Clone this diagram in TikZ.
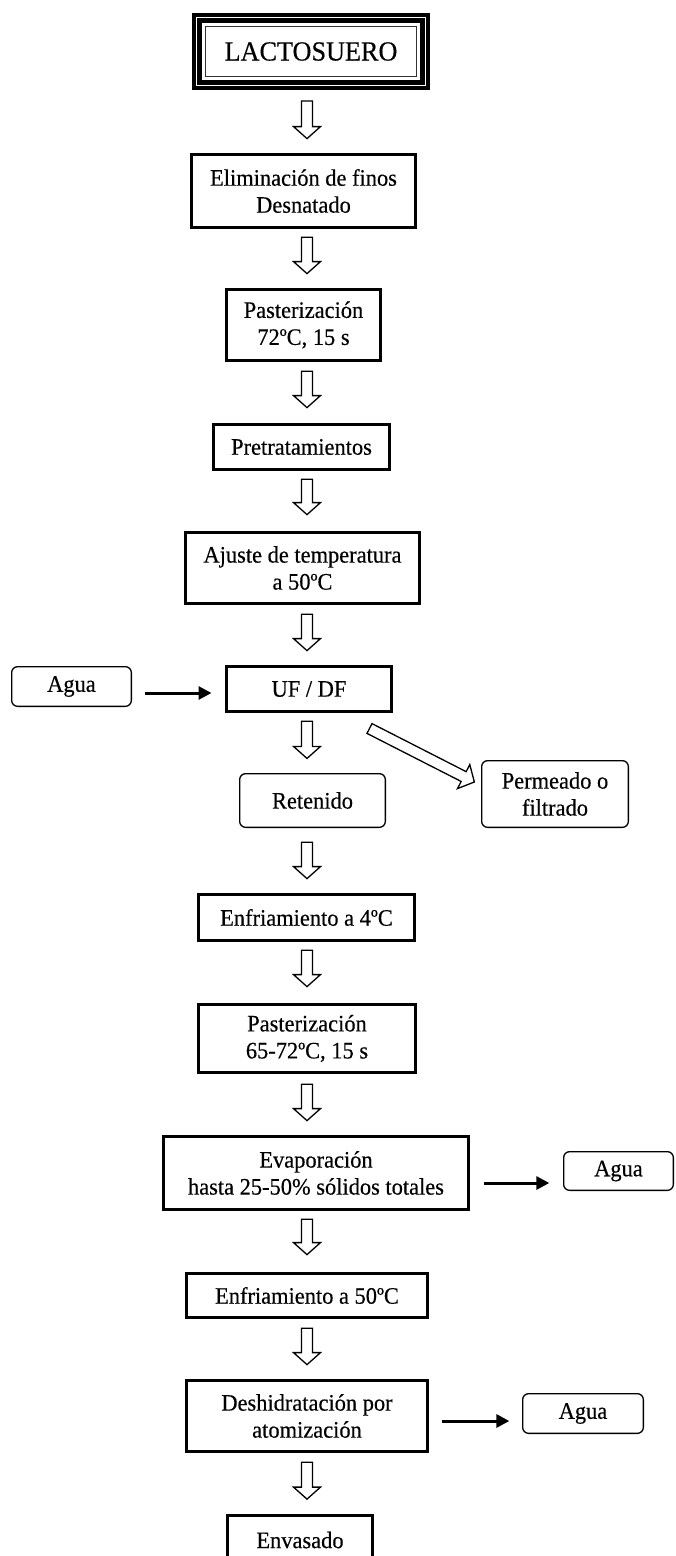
\documentclass[tikz,border=0pt]{standalone}
\usepackage{fontspec}
\setmainfont{Liberation Serif}[FakeStretch=0.95, FakeBold=0.4]
\usetikzlibrary{calc,arrows.meta}

\newcommand\flowfont{\fontsize{23.6}{27}\selectfont}
\newcommand\titlefont{\fontsize{27.6}{31}\selectfont}

\tikzset{
  stepbox/.style={draw, line width=3pt, align=center, inner sep=0pt, font=\flowfont},
  endbox/.style={draw, line width=1.3pt, rounded corners=6pt, align=center, inner sep=0pt, font=\flowfont},
  flow/.style={line width=3pt, -{Triangle[length=13pt,width=13pt]}},
  hollow/.style={draw, line width=1.3pt, fill=white, line join=miter},
}

% hollow block arrow from #1 (tail centre) to #2 (tip)
\newcommand\hollowarrow[2]{%
  \coordinate (ha-a) at #1;
  \coordinate (ha-b) at #2;
  \coordinate (ha-h) at ($(ha-b)!12pt!(ha-a)$);
  \draw[hollow] ($(ha-a)!5.5pt!90:(ha-b)$) -- ($(ha-h)!5.5pt!90:(ha-b)$)
    -- ($(ha-h)!13.5pt!90:(ha-b)$) -- (ha-b) -- ($(ha-h)!13.5pt!-90:(ha-b)$)
    -- ($(ha-h)!5.5pt!-90:(ha-b)$) -- ($(ha-a)!5.5pt!-90:(ha-b)$) -- cycle;}
% vertical step: from node #1 down to node #2, gaps #3 and #4
\newcommand\vflow[4]{\hollowarrow{($(axis |- #1.south)+(0,#3)$)}{($(axis |- #2.north)+(0,-#4)$)}}

\begin{document}
\begin{tikzpicture}[x=1pt, y=-1pt]
\useasboundingbox (0,0) rectangle (676,1556);
\clip (0,0) rectangle (676,1556);
\coordinate (axis) at (307,0);

% title box with triple frame
\node[minimum width=238pt, minimum height=77pt, inner sep=0pt, font=\titlefont] (lacto) at (311,51.5) {LACTOSUERO};
\draw[line width=4.5pt] ([shift={(2.25pt,-2.25pt)}]lacto.north west) rectangle ([shift={(-2.25pt,2.25pt)}]lacto.south east);
\draw[line width=5pt] ([shift={(8pt,-8pt)}]lacto.north west) rectangle ([shift={(-8pt,8pt)}]lacto.south east);
\draw[line width=0.9pt, black!80] ([shift={(13.5pt,-13.5pt)}]lacto.north west) rectangle ([shift={(-13.5pt,13.5pt)}]lacto.south east);

% process steps
\node[stepbox, minimum width=224pt, minimum height=73pt] (elim) at (303.5,191) {Eliminación de finos\\Desnatado};
\node[stepbox, minimum width=154pt, minimum height=71pt] (past1) at (303.5,325) {Pasterización\\72ºC, 15 s};
\node[stepbox, minimum width=176pt, minimum height=45pt] (pret) at (301.5,447) {Pretratamientos};
\node[stepbox, minimum width=234pt, minimum height=71pt] (ajuste) at (302.5,568) {Ajuste de temperatura\\a 50ºC};
\node[stepbox, minimum width=165pt, minimum height=45pt] (uf) at (309,689) {UF / DF};
\node[endbox, minimum width=119.7pt, minimum height=39.7pt] (agua1) at (71.5,686.5) {Agua};
\node[endbox, minimum width=145.7pt, minimum height=53.7pt] (ret) at (312.5,800.5) {Retenido};
\node[endbox, minimum width=146.7pt, minimum height=66.7pt] (perm) at (555,794) {Permeado o\\filtrado};
\node[stepbox, minimum width=216pt, minimum height=46pt] (enf4) at (306.5,917.5) {Enfriamiento a 4ºC};
\node[stepbox, minimum width=217pt, minimum height=68pt] (past2) at (307,1038.5) {Pasterización\\65-72ºC, 15 s};
\node[stepbox, minimum width=305pt, minimum height=73pt] (evap) at (316,1173) {Evaporación\\hasta 25-50\% sólidos totales};
\node[endbox, minimum width=109.7pt, minimum height=38.7pt] (agua2) at (618.5,1171) {Agua};
\node[stepbox, minimum width=241pt, minimum height=44pt] (enf50) at (307,1295.5) {Enfriamiento a 50ºC};
\node[stepbox, minimum width=241pt, minimum height=71pt] (desh) at (307,1416) {Deshidratación por\\atomización};
\node[endbox, minimum width=120.7pt, minimum height=39.7pt] (agua3) at (583,1413.5) {Agua};
\node[stepbox, minimum width=145pt, minimum height=50pt] (env) at (300,1540) {Envasado};

% main flow
\vflow{lacto}{elim}{10.7}{14.4}
\vflow{elim}{past1}{8.2}{14.4}
\vflow{past1}{pret}{9.2}{15.4}
\vflow{pret}{ajuste}{8.2}{16.4}
\vflow{ajuste}{uf}{9.2}{14.4}
\vflow{uf}{ret}{8.2}{14.6}
\vflow{ret}{enf4}{14.3}{14.4}
\vflow{enf4}{past2}{8.2}{16.4}
\vflow{past2}{evap}{10.2}{14.4}
\vflow{evap}{enf50}{8.2}{17.4}
\vflow{enf50}{desh}{9.2}{14.4}
\vflow{desh}{env}{9.2}{14.4}

% permeate branch
\hollowarrow{([shift={(-23.5pt,-15.5pt)}]uf.south east)}{([shift={(-6.65pt,12pt)}]perm.west)}

% water in / out
\draw[flow] ([shift={(12.6pt,-6.5pt)}]agua1.east) -- ([shift={(-13.5pt,-4pt)}]uf.west);
\draw[flow] ([shift={(13.5pt,-10pt)}]evap.east) -- ([shift={(-13.65pt,-12pt)}]agua2.west);
\draw[flow] ([shift={(12.5pt,-5pt)}]desh.east) -- ([shift={(-12.65pt,-7.5pt)}]agua3.west);
\end{tikzpicture}
\end{document}
